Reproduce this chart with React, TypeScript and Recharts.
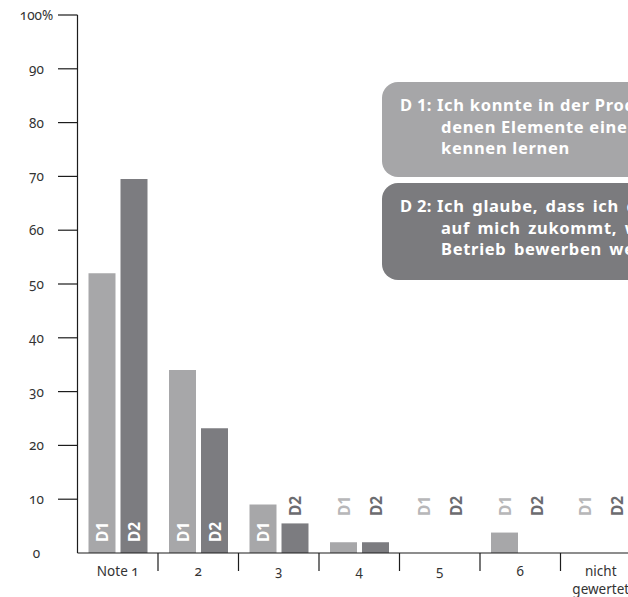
import React from "react";
import { Bar, BarChart, LabelList, Rectangle, XAxis, YAxis } from "recharts";

const categories = ["Note 1", "2", "3", "4", "5", "6", "nicht gewertet"];
const d1Values = [52, 34, 9, 2, 0, 3.8, 0];
const d2Values = [69.5, 23.2, 5.5, 2, 0, 0, 0];
const yTicks = [0, 10, 20, 30, 40, 50, 60, 70, 80, 90, 100];

const legendD1 = ["Ich konnte in der Produktion die verschie-", "denen Elemente einer Fertigungskette", "kennen lernen"];
const legendD2 = ["Ich glaube, dass ich das, was im Beruf", "auf mich zukommt, wenn ich mich in diesem", "Betrieb bewerben werde, gut bewältigen kann"];

const data = categories.map((name, i) => ({ name, D1: d1Values[i], D2: d2Values[i] }));

const FONT = "'Noto Sans', 'Open Sans', sans-serif";
const INK = "#1c1c1c";
const TEXT = "#333333";
const D1_COLOR = "#a7a7a9";
const D2_COLOR = "#7c7c80";

const CHART_W = 660;
const CHART_H = 597;
const AXIS_X = 77.5;
const AXIS_Y = 553;
const TOP = 15;
const RIGHT = 19;
const BAND = (CHART_W - AXIS_X - RIGHT) / categories.length;

function YTick(props: any) {
  const { y, payload } = props;
  const v = payload.value;
  return (
    <g>
      {v !== 0 && <line x1={58} x2={AXIS_X} y1={y} y2={y} stroke={INK} strokeWidth={1.2} />}
      <text
        x={36.5}
        y={y}
        textAnchor="middle"
        dominantBaseline="central"
        fill={TEXT}
        fontSize={13.5}
        fontFamily={FONT}
        style={{ fontVariantNumeric: "oldstyle-nums" }}
      >
        {v === 100 ? "100%" : v}
      </text>
    </g>
  );
}

function XTick(props: any) {
  const { x, payload, index } = props;
  const label: string = payload.value;
  const lines = label.length > 8 ? label.split(" ") : [label];
  return (
    <g>
      {index < categories.length - 1 && (
        <line x1={x + BAND / 2} x2={x + BAND / 2} y1={AXIS_Y} y2={AXIS_Y + 18} stroke={INK} strokeWidth={1.2} />
      )}
      {lines.map((t, i) => (
        <text
          key={i}
          x={x}
          y={AXIS_Y + 17.5 + i * 18}
          textAnchor="middle"
          dominantBaseline="central"
          fill={TEXT}
          fontSize={13.5}
          fontFamily={FONT}
          style={{ fontVariantNumeric: "oldstyle-nums" }}
        >
          {t}
        </text>
      ))}
    </g>
  );
}

// zero bars get a 1px stub so their labels still render; the stub itself is not drawn
function BarShape(props: any) {
  if (!props.value) return <g />;
  return <Rectangle {...props} />;
}

const barLabel = (name: string, outColor: string) => (props: any) => {
  const vb = props.viewBox ?? props;
  const x = vb.x ?? props.x;
  const y = vb.y ?? props.y;
  const width = vb.width ?? props.width;
  const height = vb.height ?? props.height;
  const value = Number(props.value);
  const bottom = y + height;
  const cx = x + width / 2;
  const inside = value >= 8;
  const cy = inside ? bottom - 21 : bottom - 47;
  return (
    <text
      x={cx}
      y={cy}
      transform={`rotate(-90 ${cx} ${cy})`}
      textAnchor="middle"
      dominantBaseline="central"
      fill={inside ? "#ffffff" : outColor}
      fontSize={15.5}
      fontWeight={700}
      fontFamily={FONT}
    >
      {name}
    </text>
  );
};

function LegendBox({ top, height, color, tag, lines, spacing }: any) {
  const textStyle: React.CSSProperties = {
    position: "absolute",
    color: "#fff",
    fontFamily: FONT,
    fontWeight: 700,
    fontSize: 16.5,
    letterSpacing: 0.7,
    lineHeight: "21px",
    whiteSpace: "nowrap",
  };
  return (
    <>
      <div
        style={{
          position: "absolute",
          left: 382,
          top,
          width: 320,
          height,
          background: color,
          borderRadius: 16,
        }}
      />
      <div style={{ ...textStyle, left: 400, top: top + 12, letterSpacing: 0.3 }}>{tag}</div>
      {lines.map((t: string, i: number) => (
        <div
          key={i}
          style={{ ...textStyle, left: i === 0 ? 437 : 441, top: top + 12 + i * 21.5, wordSpacing: spacing }}
        >
          {t}
        </div>
      ))}
    </>
  );
}

export default function App() {
  return (
    <div
      style={{
        position: "absolute",
        left: 0,
        top: 0,
        width: 628,
        height: 597,
        overflow: "hidden",
        background: "#fff",
      }}
    >
      <BarChart
        width={CHART_W}
        height={CHART_H}
        data={data}
        margin={{ top: TOP, right: RIGHT, left: 0, bottom: 0 }}
        barSize={27}
        barGap={5}
      >
        <YAxis
          domain={[0, 100]}
          ticks={yTicks}
          width={AXIS_X}
          tick={<YTick />}
          tickLine={false}
          axisLine={{ stroke: INK, strokeWidth: 1.2 }}
          interval={0}
        />
        <XAxis
          dataKey="name"
          height={CHART_H - AXIS_Y}
          tick={<XTick />}
          tickLine={false}
          axisLine={{ stroke: INK, strokeWidth: 1.2 }}
          interval={0}
        />
        <Bar dataKey="D1" fill={D1_COLOR} minPointSize={1} shape={<BarShape />} isAnimationActive={false}>
          <LabelList dataKey="D1" content={barLabel("D1", "#b7b7b9")} />
        </Bar>
        <Bar dataKey="D2" fill={D2_COLOR} minPointSize={1} shape={<BarShape />} isAnimationActive={false}>
          <LabelList dataKey="D2" content={barLabel("D2", "#6c6c70")} />
        </Bar>
      </BarChart>
      <LegendBox top={82} height={95} color="#a6a6a8" tag="D 1:" lines={legendD1} spacing={0} />
      <LegendBox top={183} height={97} color="#7b7b7e" tag="D 2:" lines={legendD2} spacing={2.5} />
    </div>
  );
}
